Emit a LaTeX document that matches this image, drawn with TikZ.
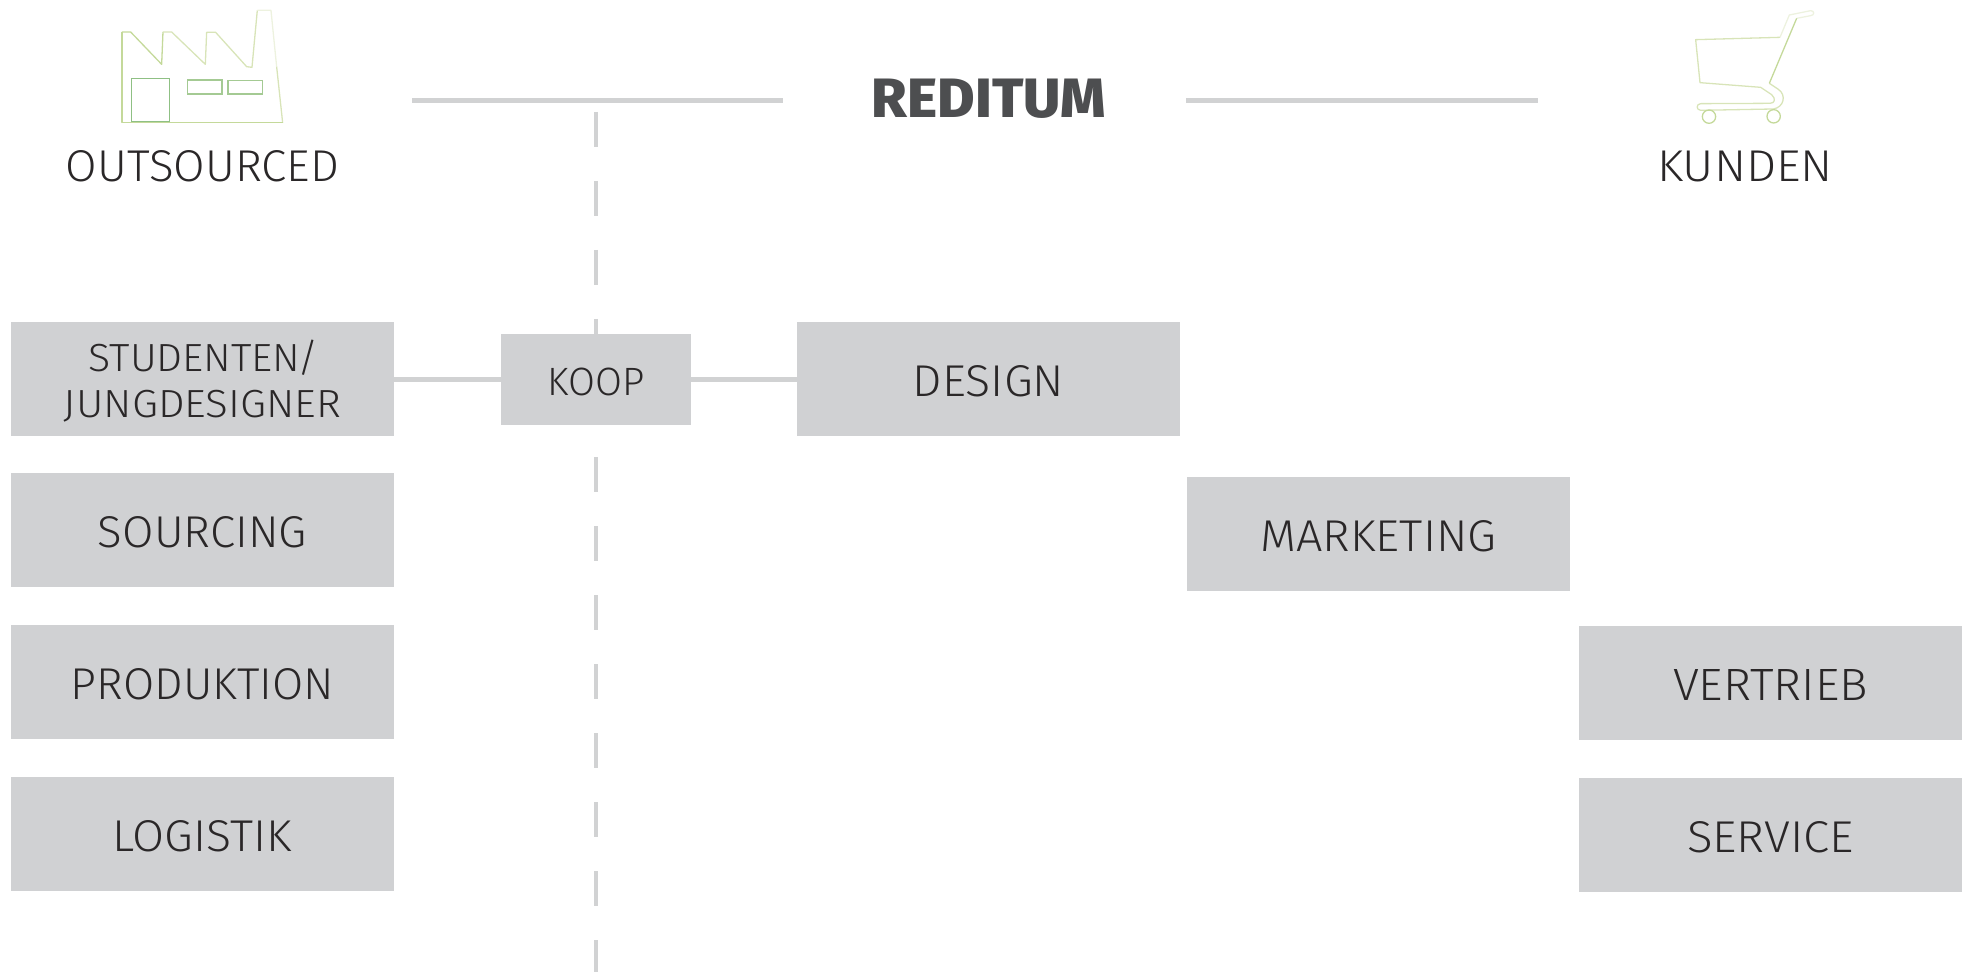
\documentclass[tikz,border=0pt]{standalone}
\usepackage{fontspec}
\usepackage{graphicx}
\setmainfont{Fira Sans Light}
\newfontfamily\boldfont{Fira Sans ExtraBold}
\definecolor{boxgray}{HTML}{D0D1D3}
\definecolor{linegray}{HTML}{D1D2D3}
\definecolor{inkdark}{HTML}{2A2728}
\definecolor{titlegray}{HTML}{4D4E50}
\definecolor{leafA}{HTML}{C4D99A}
\definecolor{leafB}{HTML}{D8E4B8}
\definecolor{leafC}{HTML}{EDF2DF}
\definecolor{leafD}{HTML}{8FC084}
\definecolor{leafE}{HTML}{A4CA93}
% \lbl{width}{capheight}{drop}{text}: text scaled to the measured size, dropped below the centre
\newcommand{\lbl}[4]{\raisebox{-#3pt}[#2pt][0pt]{\resizebox{#1pt}{#2pt}{#4}}}
\tikzset{
  box/.style={fill=boxgray,inner sep=0pt,text=inkdark,minimum width=383pt,minimum height=114pt,align=center},
  koopbox/.style={box,minimum width=190pt,minimum height=91pt},
  plain/.style={inner sep=0pt,text=inkdark},
  rule/.style={draw=linegray,line width=4.4pt},
  link/.style={draw=linegray,line width=5.5pt},
  dashrule/.style={draw=linegray,line width=3.5pt,dash pattern=on 35pt off 34pt},
  thinA/.style={draw=leafA,line width=1.3pt,line join=round},
  thinB/.style={draw=leafB,line width=1.3pt,line join=round},
  thinC/.style={draw=leafC,line width=1.3pt,line join=round},
  thinD/.style={draw=leafD,line width=1.3pt},
  thinE/.style={draw=leafE,line width=1.3pt}
}
\begin{document}
\begin{tikzpicture}[x=1pt,y=-1pt]
\useasboundingbox (0,0) rectangle (1970,973);
% free ends of the rules
\coordinate (r1a) at (412,100.7); \coordinate (r1b) at (783,100.7);
\coordinate (r2a) at (1186,100.7); \coordinate (r2b) at (1538,100.7);
\coordinate (d1a) at (596,112); \coordinate (d2b) at (596,972);
% dashed rule behind the boxes
\draw[dashrule] (d1a) -- (d2b);
\draw[rule] (r1a) -- (r1b);
\draw[rule] (r2a) -- (r2b);
% boxes
\node[box] (stud) at (202.5,379) {\rule{0pt}{36.4pt}\resizebox{228pt}{27.3pt}{STUDENTEN\kern-0.08em\smash{/}\kern-0.05em}\\[17pt]\resizebox{277pt}{27.3pt}{JUNGDESIGNER}};
\node[box] (sourcing) at (202.5,530) {\lbl{209}{31}{1.5}{SOURCING}};
\node[box] (prod) at (202.5,682) {\lbl{263}{31}{2}{PRODUKTION}};
\node[box] (log) at (202.5,834) {\lbl{179}{31}{1.5}{LOGISTIK}};
\node[koopbox] (koop) at (596,379.3) {\lbl{97}{27.5}{2}{KOOP}};
\node[box] (design) at (988.5,379) {\lbl{151}{31}{2}{DESIGN}};
\node[box] (mark) at (1378.5,534) {\lbl{236}{31}{2}{MARKETING}};
\node[box] (vert) at (1770.5,683) {\lbl{195}{31}{2}{VERTRIEB}};
\node[box] (serv) at (1770.5,835) {\lbl{167}{31}{1.5}{SERVICE}};
% connectors
\draw[link] (stud.east |- koop.center) -- (koop.west |- koop.center);
\draw[link] (koop.east |- koop.center) -- (design.west |- koop.center);
% headings
\node[plain] (out) at (202.5,166) {\resizebox{273pt}{31pt}{OUTSOURCED}};
\node[plain] (kun) at (1745,166) {\resizebox{176pt}{30.5pt}{KUNDEN}};
\node[plain,text=titlegray] (red) at (989,98.5) {\resizebox{234pt}{38.5pt}{\boldfont REDITUM}};
% factory
\begin{scope}[shift={(60,0)},x=0.3333pt,y=-0.3333pt]
\draw[thinA] (186,96) -- (212,96) -- (305,193) -- (309,96);
\draw[thinB] (309,96) -- (335,96) -- (436,193) -- (440,97) -- (467,97) -- (560,200) -- (576,202) -- (592,31);
\draw[thinC] (592,31) -- (633,31) -- (650,200);
\draw[thinB] (650,200) -- (668,368);
\draw[thinA] (668,368) -- (186,368) -- (186,96);
\draw[thinD] (214,235) rectangle (329,365);
\draw[thinE] (383,240) rectangle (486,282);
\draw[thinE] (504,241) rectangle (607,282);
\end{scope}
% shopping cart
\begin{scope}[shift={(1640,0)},x=0.3333pt,y=-0.3333pt]
\draw[thinB] (420,112) -- (167,119) -- (180,248) -- (362,262) -- (395,284) .. controls (408,296) and (405,310) .. (390,310) -- (182,311) .. controls (168,312) and (168,330) .. (182,331) -- (400,327) .. controls (432,322) and (440,285) .. (415,268) -- (388,250);
\draw[thinC] (420,112) -- (448,45) -- (512,32) .. controls (524,32) and (524,46) .. (512,47) -- (470,55);
\draw[thinA] (470,55) -- (388,250);
\draw[thinA] (207,350) circle (20);
\draw[thinA] (401,349) circle (20);
\end{scope}
\end{tikzpicture}
\end{document}
